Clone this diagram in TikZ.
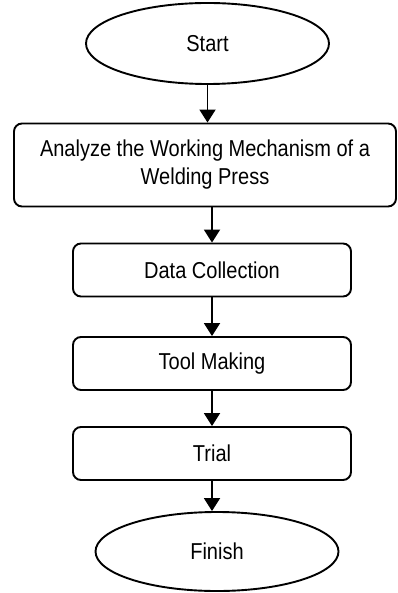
\documentclass[tikz,border=0pt]{standalone}
\usepackage{fontspec}
\setmainfont{Liberation Sans}[FakeStretch=0.87]
\usetikzlibrary{shapes.geometric,arrows.meta}
\definecolor{Ink}{HTML}{000000}
\definecolor{Paper}{HTML}{FFFFFF}

\begin{document}
\begin{tikzpicture}[x=1pt,y=-1pt,line width=1.9pt,every node/.style={font=\fontsize{23}{28}\selectfont,text=Ink,inner sep=0pt},
  terminal/.style={draw=Ink,ellipse,minimum width=243pt,minimum height=81pt},
  stepbox/.style={draw=Ink,rectangle,rounded corners=8pt,minimum width=278pt,minimum height=53pt,align=center},
  flow/.style={draw=Ink,-{Triangle[width=16pt,length=13pt]}}]
\fill[Paper] (0,0) rectangle (398,593);
\useasboundingbox (0,0) rectangle (398,593);
\node[terminal] (start) at (207.5,43.5) {Start};
\node[stepbox,minimum width=382pt,minimum height=83pt] (analyze) at (205,165) {Analyze the Working Mechanism of a\\Welding Press};
\node[stepbox] (data) at (212,270) {Data Collection};
\node[stepbox] (tool) at (212,363.5) {Tool Making};
\node[stepbox] (trial) at (212,453.5) {Trial};
\node[terminal,minimum height=79pt] (finish) at (217,551.5) {Finish};
\draw[flow] (start.south) -- (start.south |- analyze.north);
\draw[flow] (data.north |- analyze.south) -- (data.north);
\draw[flow] (data.south) -- (tool.north);
\draw[flow] (tool.south) -- (trial.north);
\draw[flow] (trial.south) -- (trial.south |- finish.north);
\end{tikzpicture}
\end{document}
